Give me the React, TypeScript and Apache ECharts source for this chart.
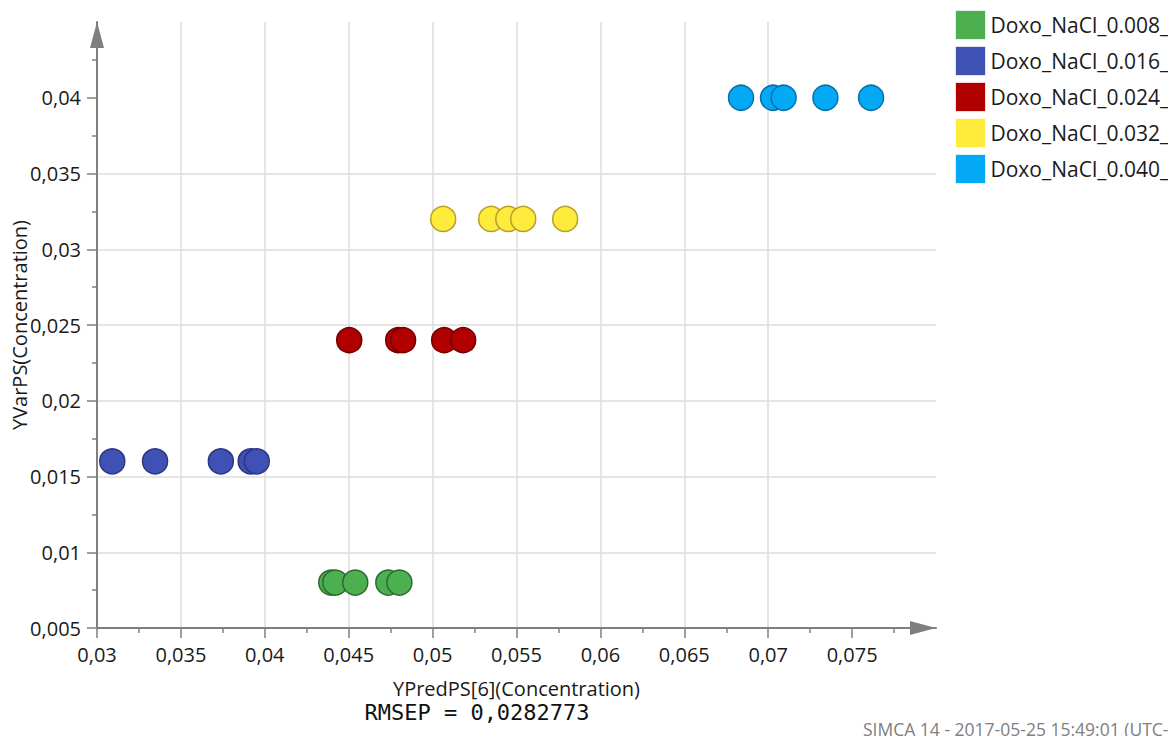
import React, { useEffect, useRef } from "react";
import * as echarts from "echarts";

const seriesNames = [
  "Doxo_NaCl_0.008_",
  "Doxo_NaCl_0.016_",
  "Doxo_NaCl_0.024_",
  "Doxo_NaCl_0.032_",
  "Doxo_NaCl_0.040_",
];
const seriesColors = ["#4CAF50", "#3F51B5", "#B00000", "#FFEB3B", "#03A9F4"];
const seriesBorders = ["#2E6B31", "#2B3785", "#750000", "#B3A22A", "#0A6FA8"];

// Y (observed) value of each group
const yLevels = [0.008, 0.016, 0.024, 0.032, 0.04];
// Predicted X values per group
const xGreen = [0.04396, 0.0442, 0.04539, 0.04736, 0.04802];
const xBlue = [0.03091, 0.03346, 0.03738, 0.03916, 0.03952];
const xRed = [0.04503, 0.04795, 0.04824, 0.05069, 0.05182];
const xYellow = [0.05063, 0.05349, 0.05451, 0.0554, 0.0579];
const xCyan = [0.06838, 0.07029, 0.07092, 0.07341, 0.07613];
const xBySeries = [xGreen, xBlue, xRed, xYellow, xCyan];

const xTicks = [0.03, 0.035, 0.04, 0.045, 0.05, 0.055, 0.06, 0.065, 0.07, 0.075];
const yTicks = [0.005, 0.01, 0.015, 0.02, 0.025, 0.03, 0.035, 0.04];

const xTitle = "YPredPS[6](Concentration)";
const yTitle = "YVarPS(Concentration)";
const rmsepText = "RMSEP = 0,0282773";
const footerText = "SIMCA 14 - 2017-05-25 15:49:01 (UTC-";

const fmt = (v: number) => String(+v.toFixed(4)).replace(".", ",");

const AXIS_COLOR = "#7f7f7f";
const FONT = "'Open Sans', 'Noto Sans', sans-serif";

export default function App() {
  const ref = useRef<HTMLDivElement>(null);
  useEffect(() => {
    if (!ref.current) return;
    const chart = echarts.init(ref.current, undefined, { renderer: "svg" });
    const axisCommon = {
      type: "value" as const,
      interval: 0.005,
      axisLine: {
        show: true,
        onZero: false,
        lineStyle: { color: AXIS_COLOR, width: 2 },
        symbol: ["none", "triangle"],
        symbolSize: [14, 26],
        symbolOffset: [0, -13],
      },
      axisTick: { show: true, length: 10, lineStyle: { color: AXIS_COLOR, width: 1.5 } },
      minorTick: { show: true, splitNumber: 2, length: 5, lineStyle: { color: AXIS_COLOR, width: 1.5 } },
      splitLine: { show: true, showMaxLine: false, lineStyle: { color: "#dcdcdc", width: 1.5 } },
      axisLabel: {
        color: "#1a1a1a",
        fontSize: 20,
        fontFamily: FONT,
        margin: 16,
        showMaxLabel: false,
        formatter: (v: number) => fmt(v),
      },
      nameLocation: "middle" as const,
      nameMoveOverlap: false,
      nameTextStyle: { color: "#1a1a1a", fontSize: 20, fontFamily: FONT },
    };
    chart.setOption({
      animation: false,
      backgroundColor: "#ffffff",
      grid: {
        left: 97,
        right: 232,
        top: 22,
        bottom: 108,
        containLabel: false,
        outerBoundsMode: "none",
      },
      xAxis: {
        ...axisCommon,
        min: 0.03,
        max: 0.08,
        name: xTitle,
        nameGap: 50,
        axisTick: { ...axisCommon.axisTick, customValues: xTicks },
      },
      yAxis: {
        ...axisCommon,
        min: 0.005,
        max: 0.045,
        name: yTitle,
        nameGap: 68,
        axisTick: { ...axisCommon.axisTick, customValues: yTicks },
      },
      legend: {
        orient: "vertical",
        left: 955,
        top: 10,
        padding: 0,
        itemWidth: 30,
        itemHeight: 29,
        itemGap: 6,
        icon: "rect",
        itemStyle: { borderWidth: 1, borderColor: "rgba(255,255,255,0.7)" },
        textStyle: { color: "#1a1a1a", fontSize: 21, fontFamily: FONT, lineHeight: 29 },
        data: seriesNames,
      },
      series: seriesNames.map((name, i) => ({
        name,
        type: "scatter",
        symbol: "circle",
        symbolSize: 25,
        itemStyle: {
          color: seriesColors[i],
          borderColor: seriesBorders[i],
          borderWidth: 1.5,
          opacity: 1,
        },
        data: xBySeries[i].map((x) => [x, yLevels[i]]),
      })),
      graphic: [
        {
          type: "text",
          x: 477,
          y: 712,
          style: {
            text: rmsepText,
            fill: "#111",
            font: "22px 'DejaVu Sans Mono', 'Liberation Mono', monospace",
            textAlign: "center",
            textVerticalAlign: "middle",
          },
        },
        {
          type: "text",
          x: 863,
          y: 738,
          style: {
            text: footerText,
            fill: "#808080",
            font: "17.5px 'Open Sans', 'Noto Sans', sans-serif",
            textAlign: "left",
            textVerticalAlign: "bottom",
          },
        },
      ],
    });
    return () => chart.dispose();
  }, []);
  return (
    <div
      ref={ref}
      style={{ position: "fixed", left: 0, top: 0, width: 1168, height: 736, background: "#fff" }}
    />
  );
}
